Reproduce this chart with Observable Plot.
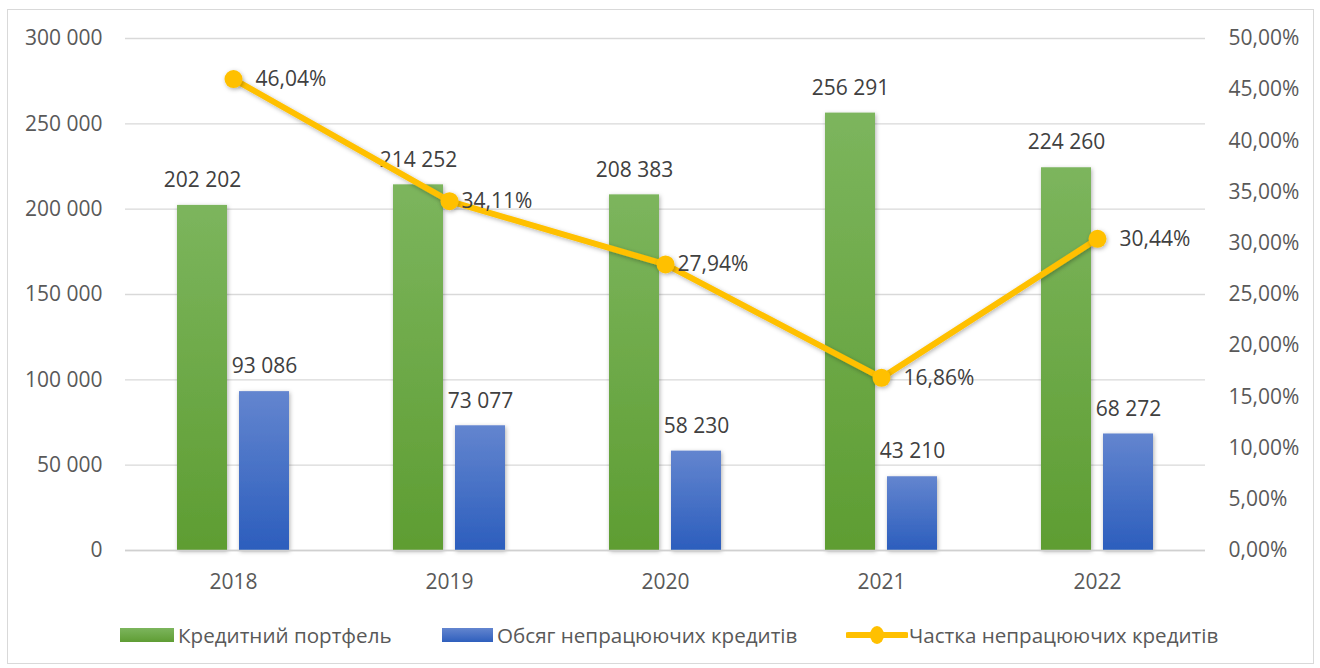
<!DOCTYPE html>
<html><head><meta charset="utf-8">
<script src="https://cdn.jsdelivr.net/npm/d3@7"></script>
<script src="https://cdn.jsdelivr.net/npm/@observablehq/plot@0.6"></script>
<style>
html,body{margin:0;padding:0;background:#fff;}
body{width:1320px;height:668px;position:relative;overflow:hidden;font-family:"Open Sans","Noto Sans",sans-serif;}
#frame{position:absolute;left:7px;top:9px;width:1307px;height:655px;border:1px solid #d9d9d9;box-sizing:border-box;}
#chart{position:absolute;left:0;top:0;}
.leg{position:absolute;top:622px;height:26px;display:flex;align-items:center;font-size:20.6px;color:#595959;white-space:nowrap;}
.sw{display:inline-block;width:54px;height:14px;margin-right:4px;}
</style>
</head><body>
<div id="frame"></div>
<div id="chart"></div>
<div class="leg" style="left:120px"><span class="sw" style="background:linear-gradient(#7cb55d,#5f9d34)"></span><span id="l1"></span></div>
<div class="leg" style="left:442px"><span class="sw" style="width:51px;background:linear-gradient(#6385cf,#2f5fbd)"></span><span id="l2"></span></div>
<div class="leg" style="left:846px"><svg width="62" height="20" style="margin-right:1px"><line x1="2" y1="10" x2="60" y2="10" stroke="#ffc000" stroke-width="6" stroke-linecap="round"/><ellipse cx="31" cy="10" rx="7" ry="9" fill="#ffc000"/></svg><span id="l3"></span></div>
<script>
const years = ["2018", "2019", "2020", "2021", "2022"];
const portfolio = [202202, 214252, 208383, 256291, 224260];
const npl = [93086, 73077, 58230, 43210, 68272];
const share = [46.04, 34.11, 27.94, 16.86, 30.44];
const yTicks = [0, 50000, 100000, 150000, 200000, 250000, 300000];
const pctTicks = [0, 5, 10, 15, 20, 25, 30, 35, 40, 45, 50];
const seriesNames = ["Кредитний портфель", "Обсяг непрацюючих кредитів", "Частка непрацюючих кредитів"];

document.getElementById("l1").textContent = seriesNames[0];
document.getElementById("l2").textContent = seriesNames[1];
document.getElementById("l3").textContent = seriesNames[2];

const K = 300000 / 50; // percent -> left-axis units
const data = years.map((y, i) => ({year: y, portfolio: portfolio[i], npl: npl[i], share: share[i], sy: share[i] * K}));
const fmt = v => d3.format(",")(v).replace(/,/g, " ");
const pfmt = v => v.toFixed(2).replace(".", ",") + "%";
const nearLabels = ["2019", "2020"];

const chart = Plot.plot({
  width: 1320, height: 600,
  marginLeft: 125, marginRight: 115, marginTop: 38, marginBottom: 50,
  x: {domain: years, padding: 0, axis: null},
  y: {domain: [0, 300000], axis: null},
  style: {fontFamily: "'Open Sans','Noto Sans',sans-serif", fontSize: "21px", color: "#595959", background: "transparent", overflow: "visible"},
  marks: [
    Plot.gridY(yTicks, {stroke: "#d9d9d9", strokeOpacity: 1, strokeWidth: 1.3}),
    Plot.axisY(yTicks, {anchor: "left", tickSize: 0, tickPadding: 23, tickFormat: fmt, label: null}),
    Plot.axisY(pctTicks.map(p => p * K), {anchor: "right", tickSize: 0, tickPadding: 23, tickFormat: d => pfmt(d / K), label: null, textAnchor: "start"}),
    Plot.axisX(years, {anchor: "bottom", tickSize: 0, tickPadding: 24, label: null}),
    Plot.barY(data, {x: "year", y: "portfolio", fill: "#70ad47", insetLeft: 52, insetRight: 114}),
    Plot.barY(data, {x: "year", y: "npl", fill: "#4472c4", insetLeft: 114, insetRight: 52}),
    Plot.ruleY([0], {stroke: "#d0d0d0", strokeWidth: 1.5}),
    Plot.text(data, {x: "year", y: "portfolio", text: d => fmt(d.portfolio), dx: -31, dy: -25, fill: "#404040"}),
    Plot.text(data, {x: "year", y: "npl", text: d => fmt(d.npl), dx: 31, dy: -25, fill: "#404040"}),
    Plot.line(data, {x: "year", y: "sy", stroke: "#ffc000", strokeWidth: 6}),
    Plot.dot(data, {x: "year", y: "sy", r: 9, fill: "#ffc000", stroke: "none"}),
    Plot.text(data.filter(d => !nearLabels.includes(d.year)), {x: "year", y: "sy", text: d => pfmt(d.share), textAnchor: "start", dx: 22, fill: "#404040"}),
    Plot.text(data.filter(d => nearLabels.includes(d.year)), {x: "year", y: "sy", text: d => pfmt(d.share), textAnchor: "start", dx: 12, fill: "#404040"})
  ]
});
document.getElementById("chart").appendChild(chart);

// gradients & shadows
const svg = d3.select(chart);
const defs = svg.insert("defs", ":first-child");
const g1 = defs.append("linearGradient").attr("id", "gGreen").attr("x1", 0).attr("y1", 0).attr("x2", 0).attr("y2", 1);
g1.append("stop").attr("offset", "0%").attr("stop-color", "#7cb55d");
g1.append("stop").attr("offset", "100%").attr("stop-color", "#5e9d32");
const g2 = defs.append("linearGradient").attr("id", "gBlue").attr("x1", 0).attr("y1", 0).attr("x2", 0).attr("y2", 1);
g2.append("stop").attr("offset", "0%").attr("stop-color", "#6385cf");
g2.append("stop").attr("offset", "100%").attr("stop-color", "#2c5ebd");
const f = defs.append("filter").attr("id", "shadow").attr("x", "-20%").attr("y", "-20%").attr("width", "140%").attr("height", "140%");
f.append("feDropShadow").attr("dx", 1).attr("dy", 1.5).attr("stdDeviation", 2).attr("flood-color", "#000").attr("flood-opacity", 0.3);
const bars = svg.selectAll('g[aria-label="bar"]').nodes();
d3.select(bars[0]).attr("fill", "url(#gGreen)").attr("filter", "url(#shadow)");
d3.select(bars[1]).attr("fill", "url(#gBlue)").attr("filter", "url(#shadow)");
svg.selectAll('g[aria-label="line"], g[aria-label="dot"]').attr("filter", "url(#shadow)");
</script>
</body></html>
